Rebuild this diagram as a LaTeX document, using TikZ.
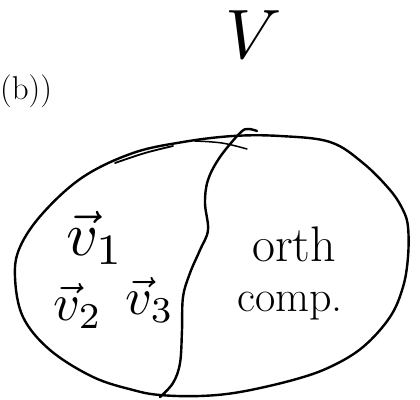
\documentclass[tikz,border=0pt]{standalone}
\usepackage{amsmath}
\usepackage{fontspec}
\begin{document}
\begin{tikzpicture}[x=1pt,y=-1pt,
  pen/.style={line width=2.4pt,line cap=round,line join=round},
  hand/.style={inner sep=0pt,anchor=center}]
\useasboundingbox (0,0) rectangle (420,399);
% space V
\node[hand] (spaceV) at (254,35) {\scalebox{7}{$V$}};
% label (b))
\node[hand,anchor=west] (lbl) at (0,91) {\fontsize{33}{38}\selectfont(b))};
% ellipse
\draw[pen] plot[smooth cycle,tension=0.6] coordinates {
  (280,136) (330,142) (363,163) (390,190) (403,210) (408,227) (408,257)
  (403,287) (390,317) (363,347) (330,367) (293,380) (240,392) (200,396)
  (160,395) (133,390) (93,377) (50,350) (23,317) (15,277) (20,247)
  (43,213) (83,177) (133,153) (183,142) (233,136)};
% extra overlapping stroke on top
\draw[line width=1.8pt,line cap=round] plot[smooth,tension=0.6] coordinates {(115,163) (145,153) (173,146)};
\draw[line width=1.5pt,line cap=round] plot[smooth,tension=0.6] coordinates {(195,141) (222,143) (247,149)};
% dividing curve
\draw[pen] plot[smooth,tension=0.6] coordinates {
  (257,131) (248,129) (240,133) (220,157) (208,180) (205,203) (208,230)
  (200,250) (190,273) (183,297) (182,330) (180,363) (173,383) (160,397)};
% labels
\node[hand] (v1) at (95,238) {\scalebox{6.2}{$\vec{v}_1$}};
\node[hand] (v2) at (78,306) {\scalebox{5.2}{$\vec{v}_2$}};
\node[hand] (v3) at (150,300) {\scalebox{5.2}{$\vec{v}_3$}};
\node[hand] (orth) at (294,244) {\fontsize{50}{50}\selectfont orth};
\node[hand] (comp) at (290,306) {\fontsize{44}{44}\selectfont comp.};
\end{tikzpicture}
\end{document}
